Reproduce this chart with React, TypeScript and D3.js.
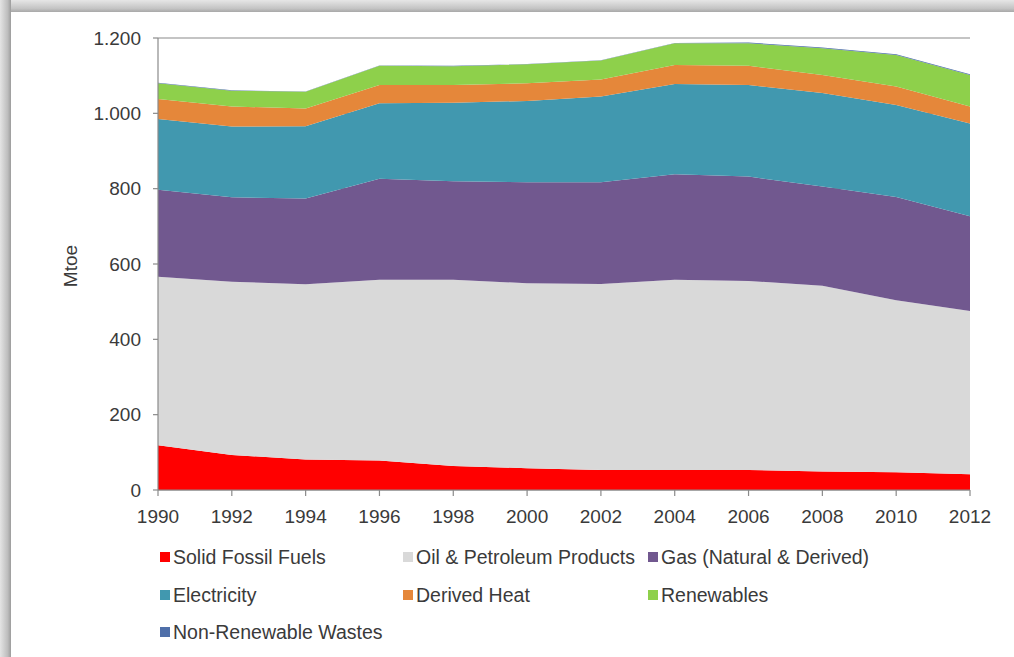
import React from "react";
import * as d3 from "d3";

const years = [1990, 1992, 1994, 1996, 1998, 2000, 2002, 2004, 2006, 2008, 2010, 2012];
const solidFossil = [119, 93, 81, 78, 64, 58, 53, 53, 53, 49, 47, 42];
const oilPetroleum = [447, 460, 465, 480, 494, 491, 494, 505, 502, 493, 457, 433];
const gasNatural = [231, 224, 228, 268, 262, 268, 270, 280, 277, 264, 274, 252];
const electricity = [188, 188, 192, 201, 208, 216, 228, 240, 243, 248, 244, 246];
const derivedHeat = [53, 53, 47, 48, 47, 47, 45, 50, 51, 48, 49, 45];
const renewables = [42, 42, 44, 51, 50, 50, 50, 58, 60, 71, 84, 84];
const nonRenewableWastes = [1, 1, 1, 1, 1, 1, 1, 1, 2, 2, 2, 2];

const seriesNames = [
  "Solid Fossil Fuels",
  "Oil & Petroleum Products",
  "Gas (Natural & Derived)",
  "Electricity",
  "Derived Heat",
  "Renewables",
  "Non-Renewable Wastes",
];
const seriesValues = [solidFossil, oilPetroleum, gasNatural, electricity, derivedHeat, renewables, nonRenewableWastes];
const seriesColors = ["#FF0000", "#D9D9D9", "#71588F", "#4198AF", "#E5873A", "#8ED04B", "#4F6FA9"];
const yTicks = [0, 200, 400, 600, 800, 1000, 1200];
const yTickLabels = ["0", "200", "400", "600", "800", "1.000", "1.200"];
const yAxisTitle = "Mtoe";

export default function App() {
  const W = 1014, H = 657;
  const x = d3.scaleLinear().domain([1990, 2012]).range([158, 970]);
  const y = d3.scaleLinear().domain([0, 1200]).range([490, 38]);

  const table = years.map((yr, i) => {
    const row: any = { year: yr };
    seriesNames.forEach((n, k) => (row[n] = seriesValues[k][i]));
    return row;
  });
  const stacked = d3.stack<any>().keys(seriesNames)(table);
  const area = d3
    .area<any>()
    .x((d) => x(d.data.year))
    .y0((d) => y(d[0]))
    .y1((d) => y(d[1]))
    .curve(d3.curveLinear);

  const font = "'Liberation Sans', Arial, sans-serif";
  const textColor = "#3a3a3a";
  const axisColor = "#8a8a8a";

  const legendCols = [160, 403, 648];
  const legendRows = [557, 595, 632];

  return (
    <svg width={W} height={H} style={{ position: "absolute", left: 0, top: 0, background: "#fff" }} fontFamily={font}>
      <defs>
        <linearGradient id="topShadow" x1="0" y1="0" x2="0" y2="1">
          <stop offset="0" stopColor="#e6e6e6" />
          <stop offset="0.7" stopColor="#c4c4c4" />
          <stop offset="1" stopColor="#a8a8a8" />
        </linearGradient>
        <linearGradient id="leftShadow" x1="0" y1="0" x2="1" y2="0">
          <stop offset="0" stopColor="#e4e4e4" />
          <stop offset="0.7" stopColor="#bdbdbd" />
          <stop offset="1" stopColor="#9c9c9c" />
        </linearGradient>
      </defs>
      <rect x={0} y={0} width={W} height={H} fill="#ffffff" />
      <rect x={0} y={0} width={W} height={12} fill="url(#topShadow)" />
      <rect x={0} y={0} width={11} height={H} fill="url(#leftShadow)" />

      {/* gridlines */}
      {yTicks.map((t) => (
        <line key={"g" + t} x1={158} x2={970} y1={y(t)} y2={y(t)} stroke={axisColor} strokeWidth={1.2} />
      ))}

      {/* areas */}
      {stacked.map((s, k) => (
        <path key={s.key} d={area(s) || ""} fill={seriesColors[k]} />
      ))}

      {/* y axis */}
      <line x1={158} x2={158} y1={38} y2={490} stroke={axisColor} strokeWidth={1.2} />
      {yTicks.map((t, i) => (
        <g key={"yt" + t}>
          <line x1={153} x2={158} y1={y(t)} y2={y(t)} stroke={axisColor} strokeWidth={1.2} />
          <text x={141} y={y(t)} dy="0.35em" textAnchor="end" fontSize={19} fill={textColor}>
            {yTickLabels[i]}
          </text>
        </g>
      ))}
      <text
        transform={`translate(${77},${266}) rotate(-90)`}
        textAnchor="middle"
        fontSize={19}
        fill={textColor}
      >
        {yAxisTitle}
      </text>

      {/* x axis */}
      <line x1={158} x2={970} y1={490} y2={490} stroke={axisColor} strokeWidth={1.2} />
      {years.map((yr) => (
        <g key={"xt" + yr}>
          <line x1={x(yr)} x2={x(yr)} y1={490} y2={496} stroke={axisColor} strokeWidth={1.2} />
          <text x={x(yr)} y={523} textAnchor="middle" fontSize={19} fill={textColor}>
            {yr}
          </text>
        </g>
      ))}

      {/* legend */}
      {seriesNames.map((n, k) => {
        const col = k % 3;
        const row = Math.floor(k / 3);
        const lx = legendCols[col];
        const ly = legendRows[row];
        return (
          <g key={"lg" + n}>
            <rect x={lx} y={ly - 5} width={10} height={10} fill={seriesColors[k]} />
            <text x={lx + 13} y={ly} dy="0.35em" fontSize={19.5} fill={textColor}>
              {n}
            </text>
          </g>
        );
      })}
    </svg>
  );
}
